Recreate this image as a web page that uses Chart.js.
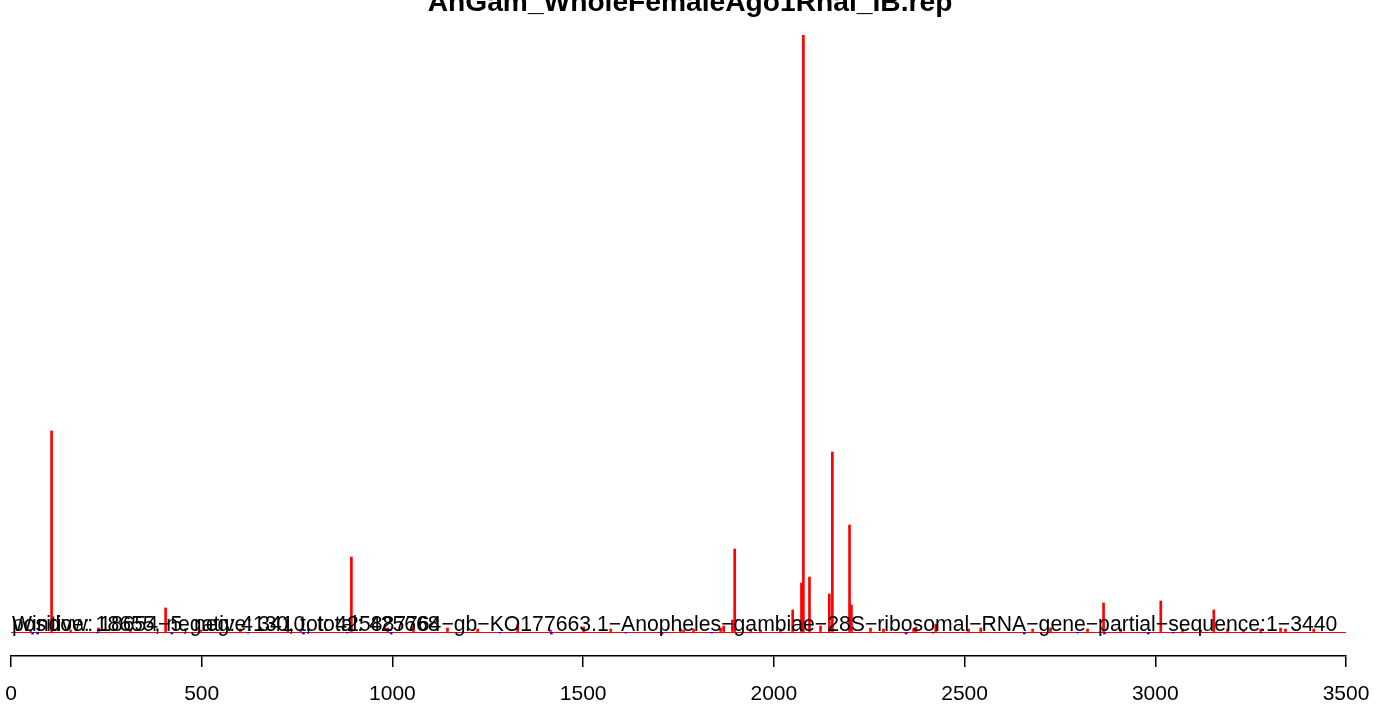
<!DOCTYPE html>
<html>
<head>
<meta charset="utf-8">
<script src="https://cdn.jsdelivr.net/npm/chart.js@4"></script>
<style>
html,body{margin:0;padding:0;background:#fff;}
#wrap{position:relative;width:1389px;height:707px;}
</style>
</head>
<body>
<div id="wrap"><canvas id="c" width="1389" height="707"></canvas></div>
<script>
// ---- data ----
const chartTitle = "AnGam_WholeFemaleAgo1Rnai_IB.rep";
const labelPositive = "positive: 18655, negative: 3410, total: 425668";
const labelWindow = "Window: 18654\u22125, neg: 4130, tot: 425887764\u2212gb\u2212KO177663.1\u2212Anopheles\u2212gambiae\u221228S\u2212ribosomal\u2212RNA\u2212gene\u2212partial\u2212sequence:1\u22123440";
const xTicks = [0, 500, 1000, 1500, 2000, 2500, 3000, 3500];

// sense (red) positions and counts
const sensePos = [54, 109, 159, 232, 316, 408, 500, 604, 728, 762, 895, 990, 1058, 1147, 1226, 1331, 1417, 1504, 1575, 1758, 1766, 1792, 1863, 1871, 1894, 1900, 1942, 1968, 2020, 2052, 2075, 2080, 2096, 2125, 2148, 2156, 2201, 2206, 2256, 2290, 2369, 2375, 2427, 2513, 2545, 2681, 2728, 2825, 2867, 2912, 3017, 3074, 3122, 3156, 3192, 3234, 3279, 3331, 3344, 3418];
const senseVal = [2, 201, 2, 4, 3, 24, 2, 3, 3, 2, 75, 4, 6, 4, 3, 8, 2, 5, 3, 3, 2, 3, 4, 6, 12, 83, 3, 2, 3, 22, 49, 597, 55, 6, 38, 180, 107, 27, 4, 3, 3, 5, 8, 3, 4, 3, 4, 3, 29, 3, 31, 3, 2, 22, 3, 2, 3, 4, 3, 3];

// antisense (blue) positions and counts (drawn below zero)
const antiPos = [54, 67, 224, 419, 619, 764, 879, 994, 1279, 1414, 1609, 1704, 1834, 2344, 2414, 2654, 2794, 2864, 2979, 3044, 3274];
const antiVal = [-2, -2, -1, -2, -1, -2, -1, -2, -1, -2, -1, -2, -1, -2, -1, -2, -1, -2, -2, -1, -1];

const yMax = 597;
const yMin = -24;

const toXY = (xs, ys) => xs.map((x, i) => ({x: x, y: ys[i]}));

const overlayPlugin = {
  id: 'overlay',
  afterDatasetsDraw(chart) {
    const ctx = chart.ctx;
    const ys = chart.scales.y;
    const base = ys.getPixelForValue(0);
    ctx.save();
    ctx.fillStyle = '#000';
    ctx.textBaseline = 'alphabetic';
    ctx.textAlign = 'left';
    ctx.font = '21.2px "Liberation Sans", Arial, sans-serif';
    ctx.fillText(labelPositive, 12, base - 1);
    ctx.fillText(labelWindow, 12, base - 1);
    ctx.font = 'bold 28.2px "Liberation Sans", Arial, sans-serif';
    ctx.textAlign = 'center';
    ctx.fillText(chartTitle, 690, 11);
    ctx.restore();
  }
};

new Chart(document.getElementById('c'), {
  type: 'bar',
  data: {
    datasets: [
      {label: 'sense', data: toXY(sensePos, senseVal), backgroundColor: '#FF0000', borderWidth: 0, barThickness: 2},
      {label: 'antisense', data: toXY(antiPos, antiVal), backgroundColor: '#0000FF', borderWidth: 0, barThickness: 2}
    ]
  },
  options: {
    responsive: false,
    animation: false,
    devicePixelRatio: 1,
    layout: {padding: {left: 11, right: 43, top: 35, bottom: 0}},
    plugins: {legend: {display: false}, title: {display: false}, tooltip: {enabled: false}},
    scales: {
      x: {
        type: 'linear', min: 0, max: 3500, offset: false,
        afterFit: (s) => { s.height = 51; s.paddingLeft = 0; s.paddingRight = 0; },
        ticks: {stepSize: 500, color: '#000', font: {family: '"Liberation Sans", Arial, sans-serif', size: 21}, padding: 15, maxRotation: 0, autoSkip: false,
          callback: (v) => xTicks.includes(v) ? String(v) : ''},
        grid: {display: true, offset: false, drawOnChartArea: false, drawTicks: true, tickLength: 11, color: '#000', lineWidth: 1.5},
        border: {display: true, color: '#000', width: 1.5}
      },
      y: {
        min: yMin, max: yMax, display: true,
        afterFit: (s) => { s.width = 0; },
        afterBuildTicks: (s) => { s.ticks = [{value: 0}]; },
        ticks: {display: false},
        border: {display: false},
        grid: {drawTicks: false, color: '#FF0000', lineWidth: 1}
      }
    }
  },
  plugins: [overlayPlugin]
});
</script>
</body>
</html>
